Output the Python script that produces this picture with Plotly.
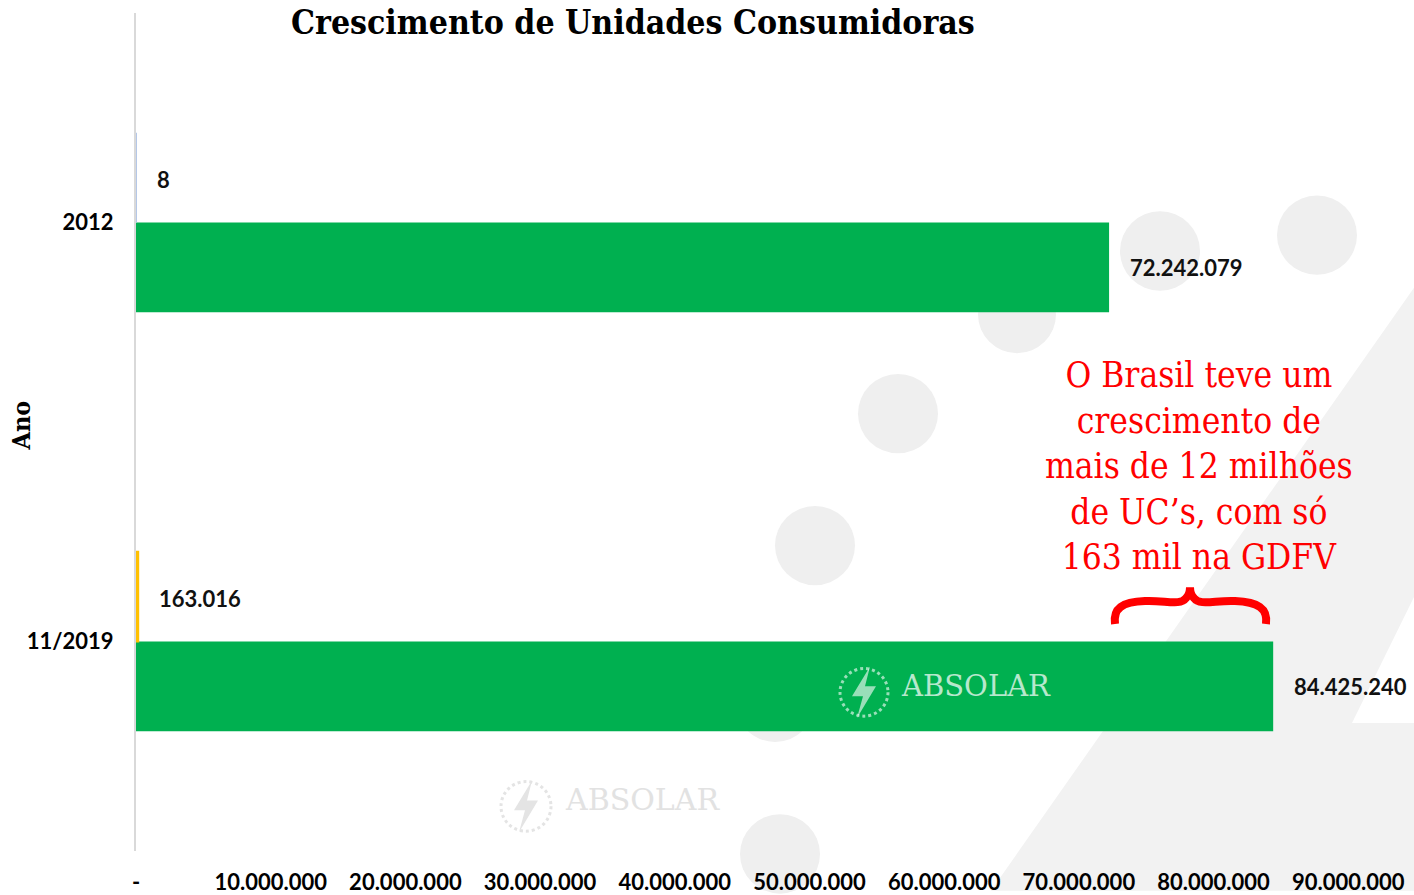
import plotly.graph_objects as go

# ---------------- data ----------------
anos = ["2012", "11/2019"]
total_uc = [72242079, 84425240]
gdfv_uc = [8, 163016]
label_total = ["72.242.079", "84.425.240"]
label_gdfv = ["8", "163.016"]
gd_colors = ["#B4C7E7", "#FFC000"]

tick_vals = [0, 10e6, 20e6, 30e6, 40e6, 50e6, 60e6, 70e6, 80e6, 90e6]
tick_text = ["-", "10.000.000", "20.000.000", "30.000.000", "40.000.000",
             "50.000.000", "60.000.000", "70.000.000", "80.000.000", "90.000.000"]

title_text = "Crescimento de Unidades Consumidoras"
note_text = ("O Brasil teve um<br>crescimento de<br>mais de 12 milhões"
             "<br>de UC’s, com só<br>163 mil na GDFV")

W, H = 1414, 895
ML, MR, MT, MB = 136, 0, 13, 37
PW, PH = W - ML - MR, H - MT - MB
BW = 0.214  # bar thickness in category units
cat_order = anos[::-1]  # bottom -> top


def px(x):
    return (x - ML) / PW


def py(y):
    return (H - MB - y) / PH


LATO = "Lato"
SLAB = "DejaVu Serif Condensed, DejaVu Serif, serif"

fig = go.Figure()
fig.add_trace(go.Bar(
    y=anos, x=total_uc, orientation="h", name="Total UCs",
    width=BW, offset=-BW,
    marker=dict(color="#00B050", line=dict(width=0)),
    hoverinfo="x+y",
))
fig.add_trace(go.Bar(
    y=anos, x=gdfv_uc, orientation="h", name="GDFV",
    width=BW, offset=0,
    marker=dict(color=gd_colors, line=dict(color=gd_colors, width=2)),
    hoverinfo="x+y",
))

annotations = []
for cat, v, lab in zip(anos, total_uc, label_total):
    annotations.append(dict(x=v, y=cat_order.index(cat), xref="x", yref="y", text=lab,
                            showarrow=False, xanchor="left", yanchor="middle",
                            xshift=19, yshift=-45,
                            font=dict(family=LATO, size=22, color="#111111", weight="bold")))
for cat, v, lab in zip(anos, gdfv_uc, label_gdfv):
    annotations.append(dict(x=v, y=cat_order.index(cat), xref="x", yref="y", text=lab,
                            showarrow=False, xanchor="left", yanchor="middle",
                            xshift=19, yshift=43,
                            font=dict(family=LATO, size=22, color="#111111", weight="bold")))

# title
annotations.append(dict(x=px(633), y=py(23), xref="paper", yref="paper",
                        text=title_text, showarrow=False, xanchor="center", yanchor="middle",
                        font=dict(family=SLAB, size=33.5, color="#000000", weight="bold")))
# axis title
annotations.append(dict(x=px(22), y=py(429), xref="paper", yref="paper",
                        text="Ano", showarrow=False, textangle=-90,
                        xanchor="center", yanchor="middle",
                        font=dict(family=SLAB, size=25, color="#000000", weight="bold")))
# red note
annotations.append(dict(x=px(1199), y=py(470), xref="paper", yref="paper",
                        text=note_text, showarrow=False, xanchor="center", yanchor="middle",
                        align="center",
                        font=dict(family=SLAB, size=35, color="#FF0000")))
# watermark logos text
annotations.append(dict(x=px(899), y=py(692), xref="paper", yref="paper",
                        text="ABSOLAR", showarrow=False, xanchor="left", yanchor="middle",
                        font=dict(family="DejaVu Serif, serif", size=29, color="rgba(255,255,255,0.72)")))
annotations.append(dict(x=px(563), y=py(806), xref="paper", yref="paper",
                        text="ABSOLAR", showarrow=False, xanchor="left", yanchor="middle",
                        font=dict(family="DejaVu Serif, serif", size=30, color="#E2E2E2")))

shapes = []
BG = "#EFEFEF"
# big diagonal background shape
poly = [(991, 898), (1414, 290), (1414, 602), (1352, 729), (1414, 729), (1414, 898)]
path = "M " + " L ".join(f"{px(x):.5f},{py(y):.5f}" for x, y in poly) + " Z"
shapes.append(dict(type="path", xref="paper", yref="paper", path=path,
                   fillcolor="#F2F2F2", line=dict(width=0), layer="below"))
# circles
for cx, cy, r in [(1160, 253, 40), (1317, 237, 40), (1017, 317, 39), (898, 417, 40),
                  (815, 550, 40), (775, 708, 40), (780, 861, 40)]:
    shapes.append(dict(type="circle", xref="paper", yref="paper",
                       x0=px(cx - r), x1=px(cx + r), y0=py(cy + r), y1=py(cy - r),
                       fillcolor=BG, line=dict(width=0), layer="below"))

# logo icons (dotted circle + bolt)
for cx, cy, r, col, layer in [(864, 698, 24, "rgba(255,255,255,0.6)", "above"),
                               (526, 813, 25, "#E4E4E4", "below")]:
    shapes.append(dict(type="circle", xref="paper", yref="paper",
                       x0=px(cx - r), x1=px(cx + r), y0=py(cy + r), y1=py(cy - r),
                       line=dict(color=col, width=3, dash="dot"), layer=layer))
    bolt = [(cx + 6, cy - 26), (cx - 12, cy + 4), (cx - 1, cy + 4), (cx - 7, cy + 26),
            (cx + 12, cy - 6), (cx + 1, cy - 6)]
    bp = "M " + " L ".join(f"{px(x):.5f},{py(y):.5f}" for x, y in bolt) + " Z"
    shapes.append(dict(type="path", xref="paper", yref="paper", path=bp,
                       fillcolor=col, line=dict(width=0), layer=layer))

# red brace
bpx = [("M", [(1115, 629)]),
       ("C", [(1113, 613), (1122, 607), (1145, 606)]),
       ("C", [(1165, 605), (1180, 611), (1186, 603)]),
       ("Q", [(1190, 599), (1190, 592)]),
       ("Q", [(1190, 599), (1194, 603)]),
       ("C", [(1200, 611), (1215, 605), (1235, 606)]),
       ("C", [(1258, 607), (1268, 613), (1266, 629)])]
brace = " ".join(cmd + " " + " ".join(f"{px(x):.5f},{py(y):.5f}" for x, y in pts) for cmd, pts in bpx)
shapes.append(dict(type="path", xref="paper", yref="paper", path=brace,
                   line=dict(color="#FF0000", width=8), layer="above"))

fig.update_layout(
    width=W, height=H,
    margin=dict(l=ML, r=MR, t=MT, b=MB),
    paper_bgcolor="white", plot_bgcolor="rgba(0,0,0,0)",
    barmode="overlay",
    showlegend=False,
    annotations=annotations, shapes=shapes,
    xaxis=dict(type="linear", range=[0, 94.88e6], tickvals=tick_vals, ticktext=tick_text,
               showgrid=False, zeroline=False, showline=False, ticks="",
               ticklabelstandoff=16,
               tickfont=dict(family=LATO, size=22, color="#000000", weight="bold")),
    yaxis=dict(type="category", categoryorder="array", categoryarray=cat_order,
               range=[-0.5, len(anos) - 0.5], autorange=False,
               showgrid=False, zeroline=False, showline=True, linecolor="#D9D9D9",
               linewidth=2, ticks="", ticklabelstandoff=16,
               tickfont=dict(family=LATO, size=22, color="#000000", weight="bold")),
)

fig.write_html("out.html", config={"displayModeBar": False},
               post_script="document.body.style.margin='0';document.body.style.overflow='hidden';")
